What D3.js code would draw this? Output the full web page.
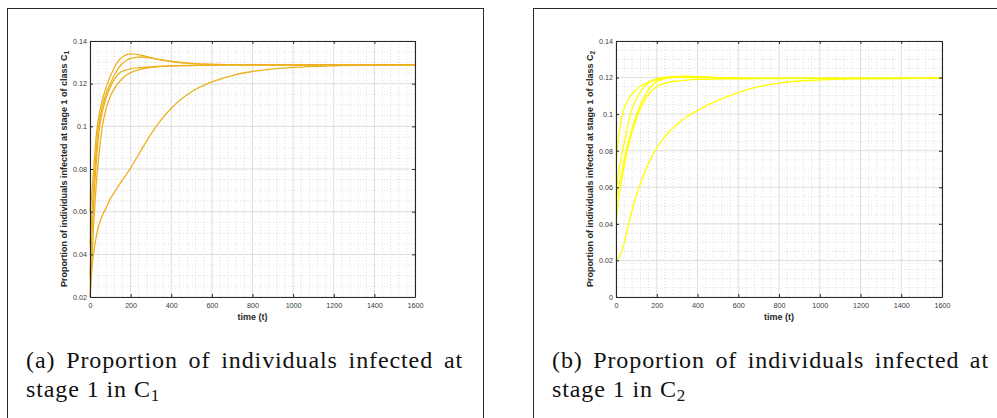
<!DOCTYPE html>
<html>
<head>
<meta charset="utf-8">
<script src="https://cdn.jsdelivr.net/npm/d3@7"></script>
<style>
    body { margin: 0; background: #fff; }
    svg { display: block; }
    .tick text { font-family: "Liberation Sans", Arial, sans-serif; font-size: 7.2px; fill: #3a3a3a; }
    .axis-label { font-family: "Liberation Sans", Arial, sans-serif; font-size: 9px; font-weight: bold; fill: #262626; }
    .caption { font-family: "Liberation Serif", "Times New Roman", serif; font-size: 24px; letter-spacing: 0.9px; fill: #111; }
</style>
</head>
<body>
<svg id="chart" width="997" height="418"></svg>
<script>
// time points shared by every run (t)
const timeSteps = [0, 5, 10, 20, 30, 40, 50, 60, 80, 100, 125, 150, 175, 200, 250, 300, 350, 400, 500, 600, 700, 800, 1000, 1200, 1400, 1600];

// class C1, stage 1 - one array per initial condition
const c1Run1 = [0.060, 0.065, 0.070, 0.082, 0.095, 0.1025, 0.108, 0.112, 0.1185, 0.1235, 0.1285, 0.1318, 0.1334, 0.1340, 0.1334, 0.1322, 0.1311, 0.1303, 0.1294, 0.1290, 0.1289, 0.1288, 0.1288, 0.1288, 0.1288, 0.1288];
const c1Run2 = [0.045, 0.052, 0.060, 0.0745, 0.088, 0.0985, 0.1045, 0.109, 0.1155, 0.1200, 0.1250, 0.1285, 0.1306, 0.1318, 0.1325, 0.1320, 0.1312, 0.1305, 0.1295, 0.1290, 0.1289, 0.1288, 0.1288, 0.1288, 0.1288, 0.1288];
const c1Run3 = [0.030, 0.040, 0.050, 0.068, 0.082, 0.094, 0.1015, 0.1065, 0.1135, 0.1185, 0.1227, 0.1253, 0.1264, 0.1270, 0.1275, 0.1279, 0.1281, 0.1283, 0.1285, 0.1287, 0.1288, 0.1288, 0.1288, 0.1288, 0.1288, 0.1288];
const c1Run4 = [0.020, 0.030, 0.040, 0.057, 0.072, 0.083, 0.092, 0.0995, 0.1085, 0.1140, 0.1185, 0.1215, 0.1237, 0.1252, 0.1268, 0.1277, 0.1281, 0.1284, 0.1286, 0.1287, 0.1288, 0.1288, 0.1288, 0.1288, 0.1288, 0.1288];
const c1Run5 = [0.020, 0.027, 0.034, 0.042, 0.048, 0.0525, 0.0555, 0.058, 0.0620, 0.0660, 0.0698, 0.0735, 0.0769, 0.0805, 0.0885, 0.0963, 0.1030, 0.1085, 0.1162, 0.1208, 0.1238, 0.1257, 0.1276, 0.1284, 0.1287, 0.1288];

// class C2, stage 1
const c2Run1 = [0.0715, 0.079, 0.085, 0.093, 0.099, 0.1030, 0.1058, 0.1080, 0.1113, 0.1135, 0.1157, 0.1170, 0.1181, 0.1189, 0.1198, 0.1201, 0.1201, 0.1200, 0.1198, 0.1197, 0.1196, 0.1196, 0.1196, 0.1196, 0.1196, 0.1196];
const c2Run2 = [0.059, 0.062, 0.066, 0.073, 0.079, 0.084, 0.089, 0.0950, 0.1030, 0.1085, 0.1130, 0.1162, 0.1182, 0.1193, 0.1203, 0.1207, 0.1207, 0.1205, 0.1200, 0.1197, 0.1196, 0.1196, 0.1196, 0.1196, 0.1196, 0.1196];
const c2Run3 = [0.053, 0.056, 0.059, 0.064, 0.0695, 0.075, 0.080, 0.0845, 0.0925, 0.0995, 0.1065, 0.1118, 0.1155, 0.1178, 0.1198, 0.1205, 0.1206, 0.1204, 0.1200, 0.1197, 0.1196, 0.1196, 0.1196, 0.1196, 0.1196, 0.1196];
const c2Run4 = [0.041, 0.046, 0.051, 0.059, 0.0655, 0.0715, 0.077, 0.082, 0.0905, 0.0975, 0.1045, 0.1095, 0.1128, 0.1150, 0.1172, 0.1182, 0.1187, 0.1190, 0.1192, 0.1193, 0.1194, 0.1195, 0.1196, 0.1196, 0.1196, 0.1196];
const c2Run5 = [0.020, 0.0205, 0.021, 0.023, 0.0255, 0.0295, 0.034, 0.039, 0.048, 0.0555, 0.0635, 0.0705, 0.0765, 0.0815, 0.0890, 0.0945, 0.0987, 0.1020, 0.1075, 0.1118, 0.1150, 0.1170, 0.1187, 0.1193, 0.1195, 0.1196];

// axis ticks
const xTicks = [0, 200, 400, 600, 800, 1000, 1200, 1400, 1600];
const xTickLabels = ["0", "200", "400", "600", "800", "1000", "1200", "1400", "1600"];
const yTicksC1 = [0.02, 0.04, 0.06, 0.08, 0.10, 0.12, 0.14];
const yTickLabelsC1 = ["0.02", "0.04", "0.06", "0.08", "0.1", "0.12", "0.14"];
const yTicksC2 = [0, 0.02, 0.04, 0.06, 0.08, 0.10, 0.12, 0.14];
const yTickLabelsC2 = ["0", "0.02", "0.04", "0.06", "0.08", "0.1", "0.12", "0.14"];

const svg = d3.select("#chart");

function drawPanel(p)
{
    const g = svg.append("g");

    // figure frame
    g.append("rect")
        .attr("x", p.frame[0]).attr("y", p.frame[1])
        .attr("width", p.frame[2]).attr("height", p.frame[3])
        .attr("fill", "none").attr("stroke", "#2a2a2a").attr("stroke-width", 1);

    const x = d3.scaleLinear().domain([0, 1600]).range([p.left, p.right]);
    const y = d3.scaleLinear().domain(p.yDomain).range([p.bottom, p.top]);

    // minor grid (dotted)
    const minorX = d3.range(0, 1600, 40).filter(v => v % 200 !== 0);
    const minorY = d3.range(Math.round(p.yDomain[0] * 1000), Math.round(p.yDomain[1] * 1000), 5)
        .filter(v => v % 20 !== 0).map(v => v / 1000);

    g.selectAll(".minor-x").data(minorX).join("line")
        .attr("x1", d => x(d)).attr("x2", d => x(d))
        .attr("y1", p.top).attr("y2", p.bottom)
        .attr("stroke", "#cfcfcf").attr("stroke-width", 0.7).attr("stroke-dasharray", "1,2");
    g.selectAll(".minor-y").data(minorY).join("line")
        .attr("y1", d => y(d)).attr("y2", d => y(d))
        .attr("x1", p.left).attr("x2", p.right)
        .attr("stroke", "#cfcfcf").attr("stroke-width", 0.7).attr("stroke-dasharray", "1,2");

    // major grid
    g.selectAll(".major-x").data(xTicks).join("line")
        .attr("x1", d => x(d)).attr("x2", d => x(d))
        .attr("y1", p.top).attr("y2", p.bottom)
        .attr("stroke", "#dedede").attr("stroke-width", 1);
    g.selectAll(".major-y").data(p.yTicks).join("line")
        .attr("y1", d => y(d)).attr("y2", d => y(d))
        .attr("x1", p.left).attr("x2", p.right)
        .attr("stroke", "#dedede").attr("stroke-width", 1);

    // curves
    const line = d3.line()
        .x((d, i) => x(timeSteps[i]))
        .y(d => y(d))
        .curve(d3.curveMonotoneX);

    g.selectAll(".run").data(p.runs).join("path")
        .attr("d", line)
        .attr("fill", "none")
        .attr("stroke", p.color)
        .attr("stroke-width", 1.3);

    // axes, ticks pointing inward like matlab
    const fmtX = (d, i) => xTickLabels[i];
    const fmtY = (d, i) => p.yTickLabels[i];

    const axB = g.append("g").attr("transform", `translate(0,${p.bottom})`)
        .call(d3.axisBottom(x).tickValues(xTicks).tickFormat(fmtX).tickSizeInner(-3).tickSizeOuter(0).tickPadding(6));
    const axL = g.append("g").attr("transform", `translate(${p.left},0)`)
        .call(d3.axisLeft(y).tickValues(p.yTicks).tickFormat(fmtY).tickSizeInner(-3).tickSizeOuter(0).tickPadding(3));
    const axT = g.append("g").attr("transform", `translate(0,${p.top})`)
        .call(d3.axisTop(x).tickValues(xTicks).tickFormat("").tickSizeInner(-3).tickSizeOuter(0));
    const axR = g.append("g").attr("transform", `translate(${p.right},0)`)
        .call(d3.axisRight(y).tickValues(p.yTicks).tickFormat("").tickSizeInner(-3).tickSizeOuter(0));

    [axB, axL, axT, axR].forEach(a => {
        a.select(".domain").attr("stroke", "#262626").attr("stroke-width", 1.1);
        a.selectAll(".tick line").attr("stroke", "#262626");
    });
    axB.selectAll(".tick text").attr("dy", "0.71em");

    // axis titles
    g.append("text")
        .attr("class", "axis-label")
        .attr("x", (p.left + p.right) / 2)
        .attr("y", p.bottom + 23)
        .attr("text-anchor", "middle")
        .text("time (t)");

    const yl = g.append("text")
        .attr("class", "axis-label")
        .attr("text-anchor", "middle")
        .attr("transform", `translate(${p.left - 23},${(p.top + p.bottom) / 2}) rotate(-90)`);
    yl.append("tspan").text("Proportion of individuals infected at stage 1 of class C");
    yl.append("tspan").attr("baseline-shift", "-25%").attr("font-size", "6.5px").text(p.sub);

    // caption, justified on the first line like LaTeX
    const cap1 = g.append("text")
        .attr("class", "caption")
        .attr("x", p.capX).attr("y", 368)
        .text(`(${p.tag}) Proportion of individuals infected at`);
    const natural = cap1.node().getComputedTextLength();
    const spaces = cap1.text().split(" ").length - 1;
    cap1.attr("word-spacing", Math.max(0, (437 - natural) / spaces));

    const cap2 = g.append("text")
        .attr("class", "caption")
        .attr("x", p.capX).attr("y", 397);
    cap2.append("tspan").text("stage 1 in C");
    cap2.append("tspan").attr("baseline-shift", "-22%").attr("font-size", "17px").text(p.sub);
}

drawPanel({
    frame: [7.5, 8.5, 476, 420],
    left: 90, right: 415, top: 41, bottom: 297,
    yDomain: [0.02, 0.14], yTicks: yTicksC1, yTickLabels: yTickLabelsC1,
    runs: [c1Run1, c1Run2, c1Run3, c1Run4, c1Run5],
    color: "#EDB120", sub: "1", tag: "a", capX: 26
});

drawPanel({
    frame: [533.5, 8.5, 480, 420],
    left: 616, right: 942, top: 41, bottom: 297,
    yDomain: [0, 0.14], yTicks: yTicksC2, yTickLabels: yTickLabelsC2,
    runs: [c2Run1, c2Run2, c2Run3, c2Run4, c2Run5],
    color: "#FFFF00", sub: "2", tag: "b", capX: 552
});
</script>
</body>
</html>
